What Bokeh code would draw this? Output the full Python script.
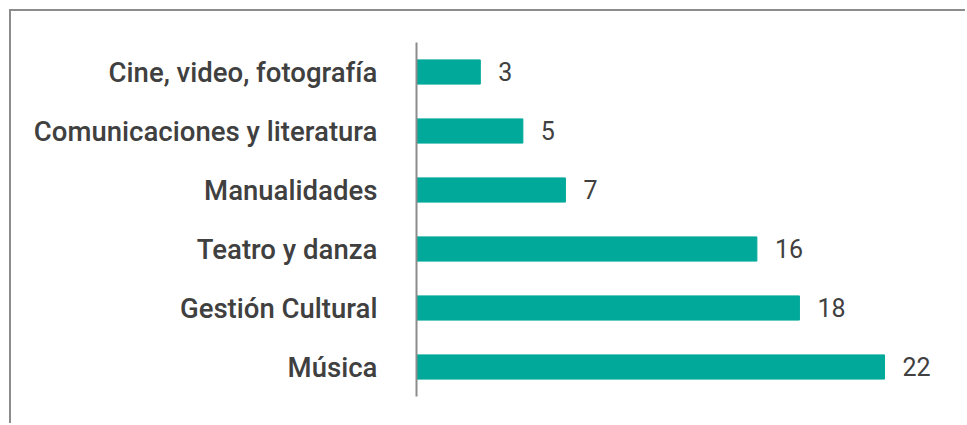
from bokeh.plotting import figure
from bokeh.models import Range1d, ColumnDataSource, LabelSet
from bokeh.core.properties import value
from bokeh.embed import file_html
from bokeh.resources import INLINE

categories = ["Música", "Gestión Cultural", "Teatro y danza", "Manualidades",
              "Comunicaciones y literatura", "Cine, video, fotografía"]
values = [22, 18, 16, 7, 5, 3]
value_labels = [str(v) for v in values]

src = ColumnDataSource(dict(cat=categories, val=values, lab=value_labels))

p = figure(width=956, height=414, y_range=categories, x_range=Range1d(0, 25.9),
           output_backend="svg", toolbar_location=None, x_axis_location=None,
           min_border_left=405, min_border_right=0, min_border_top=31, min_border_bottom=29,
           styles={"border-top": "2px solid #8c8c8c", "border-left": "2px solid #8c8c8c",
                   "margin-top": "9px", "margin-left": "9px"})
p.y_range.range_padding = 0
p.outline_line_color = None
p.grid.visible = False

p.hbar(y="cat", right="val", left=0, height=0.41, source=src, color="#00a99a")

labels = LabelSet(x="val", y="cat", text="lab", source=src, x_offset=18, y_offset=1,
                  text_baseline="middle", text_font=value("Roboto"), text_font_size="25px",
                  text_color="#404040")
p.add_layout(labels)

ax = p.yaxis[0]
ax.axis_line_color = "#8c8c8c"
ax.axis_line_width = 2
ax.major_tick_line_color = None
ax.minor_tick_line_color = None
ax.major_label_standoff = 33
ax.major_label_text_font = "Roboto Medium"
ax.major_label_text_font_style = "normal"
ax.major_label_text_font_size = "27.5px"
ax.major_label_text_color = "#404040"

open("out.html", "w").write(file_html(p, INLINE))
